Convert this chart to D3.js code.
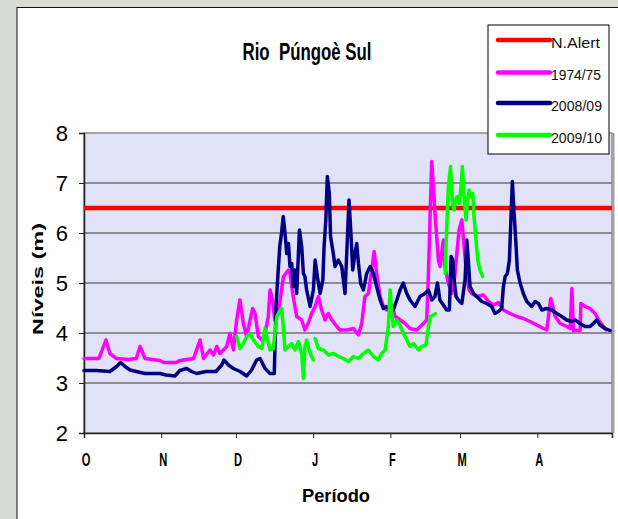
<!DOCTYPE html>
<html>
<head>
<meta charset="utf-8">
<script src="https://cdn.jsdelivr.net/npm/d3@7"></script>
<style>
  html, body { margin: 0; padding: 0; background: #d8dbd6; }
  svg { display: block; }
  text { font-family: "Liberation Sans", Arial, sans-serif; }
</style>
</head>
<body>
<div id="chart"></div>
<script>
// months of the season, October to April
var months = ["O", "N", "D", "J", "F", "M", "A"];
var monthDays = [31, 30, 31, 31, 28, 31, 30];
var yTicks = [2, 3, 4, 5, 6, 7, 8];
var alertLevel = 6.5;
var names = ["N.Alert", "1974/75", "2008/09", "2009/10"];
var colors = ["#ff0000", "#ff00ff", "#000080", "#00ff00"];

// [day since 1 Oct, level in m]
var s1974 = [[0,3.49],[6,3.49],[8.8,3.86],[10.4,3.59],[13,3.49],[18,3.47],[21,3.49],[22.5,3.73],[24.5,3.49],[30.5,3.45],[32,3.41],[37,3.41],[38.5,3.45],[44,3.49],[46.6,3.86],[48,3.49],[50.6,3.66],[52,3.56],[53.3,3.73],[54.6,3.59],[57.3,3.73],[58.6,3.99],[60,3.66],[61.3,4.26],[62.6,4.66],[64,4.19],[65.3,3.93],[66.7,4.26],[67.7,4.49],[68.7,4.39],[70,3.93],[71.4,3.86],[72.7,3.99],[74,4.33],[74.7,4.86],[75.7,4.66],[76.6,4.26],[78,4.4],[80.1,5.13],[82.1,5.26],[82.7,5.19],[84,4.73],[85.4,4.33],[87.4,4.26],[88.7,4.06],[90,4.19],[91.4,4.39],[92.8,4.53],[94.1,4.73],[95.4,4.46],[96.8,4.26],[98.1,4.39],[99.5,4.26],[101.5,4.13],[102.8,4.06],[105.5,4.06],[108.2,4.09],[110.2,3.96],[111.5,4.19],[112.8,4.73],[114.2,4.79],[115.5,5.26],[116.5,5.63],[117.5,5.19],[118.9,4.73],[120.2,4.53],[121.5,4.46],[123.6,4.56],[124.9,4.33],[127,4.26],[128.9,4.19],[130.9,4.09],[133.6,4.06],[136.3,4.19],[137.6,4.26],[138.3,5.19],[139.6,7.43],[140.3,6.93],[141,6.33],[141.6,5.93],[142.3,5.46],[143,5.33],[143.6,5.59],[144.3,5.86],[144.9,5.33],[146.3,4.99],[147.7,4.79],[148.7,5.06],[149.7,5.59],[150.6,6.06],[151.7,6.26],[152.6,5.73],[153.7,5.13],[154.6,4.86],[155.7,4.79],[157.7,4.73],[160.4,4.76],[162.4,4.63],[164.4,4.56],[166.4,4.61],[168.4,4.46],[171.1,4.39],[173.8,4.33],[176.4,4.29],[179.1,4.23],[181.8,4.16],[184.5,4.09],[185.8,4.06],[186.5,4.33],[187.4,4.69],[188.2,4.53],[189.2,4.33],[191.2,4.19],[193.8,4.13],[195.2,4.09],[195.9,4.89],[196.5,4.05],[199.2,4.05],[199.5,4.59],[201.2,4.53],[203.2,4.49],[205.2,4.39],[206.6,4.26],[208.6,4.13],[209.6,4.06]];

var s2008 = [[0,3.25],[5,3.25],[10.4,3.23],[13.1,3.33],[14.7,3.41],[16.5,3.33],[18.5,3.26],[21,3.23],[24.5,3.19],[30.5,3.19],[33,3.16],[36.5,3.14],[38.5,3.25],[41.2,3.29],[43.2,3.23],[45.2,3.19],[49,3.23],[53,3.23],[55.3,3.36],[56.2,3.46],[58,3.36],[60,3.29],[62.7,3.23],[65.3,3.14],[67.3,3.26],[69.3,3.46],[70.7,3.49],[72.7,3.29],[74.7,3.19],[76.4,3.19],[77.1,4.53],[77.9,5.19],[78.6,5.73],[79.3,5.99],[80,6.33],[80.7,6.0],[81.4,5.59],[82.1,5.79],[82.7,5.33],[83.4,5.39],[84,4.93],[84.7,5.26],[85.4,4.79],[86.5,6.06],[87.4,5.73],[88.1,5.19],[88.7,5.13],[89.4,4.86],[90.8,4.53],[92.1,4.86],[92.8,5.46],[93.7,5.13],[94.8,4.79],[95.9,5.06],[96.4,5.73],[97.1,6.26],[97.7,7.13],[98.5,6.79],[99,5.93],[100.1,5.59],[100.8,5.33],[102.1,5.46],[103.5,5.33],[104.8,4.79],[105.5,5.59],[106.4,6.66],[107.1,6.06],[107.9,5.26],[108.8,5.59],[109.5,5.79],[110.2,5.39],[111.1,4.99],[112.2,4.86],[113.5,5.19],[114.9,5.33],[116.2,5.19],[117.5,4.93],[118.9,4.66],[120.2,4.49],[121.5,4.53],[122.9,4.43],[124.2,4.46],[125.6,4.66],[126.9,4.86],[128.2,5.0],[129.6,4.79],[130.9,4.66],[132.9,4.53],[134.9,4.73],[136.9,4.79],[138.3,4.86],[139.6,4.66],[140.9,4.73],[141.9,5.0],[142.9,4.66],[144.3,4.56],[145.6,4.46],[146.7,4.46],[147.4,5.53],[148.1,5.46],[148.6,5.06],[149.4,4.73],[150.3,4.66],[151.7,4.59],[153,5.06],[153.7,5.86],[154.3,5.46],[155,4.93],[156.4,4.79],[157.7,4.73],[159.7,4.63],[161.7,4.59],[163.7,4.53],[165,4.39],[166.4,4.43],[167.7,4.49],[168.4,4.93],[169.1,5.13],[170,5.19],[170.8,5.46],[171.4,6.26],[172,7.03],[172.7,6.39],[173.5,5.73],[174,5.26],[175.1,5.0],[176.4,4.79],[177.8,4.63],[179.8,4.53],[181.1,4.63],[182.5,4.59],[183.8,4.46],[185.8,4.49],[187.8,4.46],[189.8,4.39],[191.8,4.33],[193.8,4.26],[195.9,4.23],[197.2,4.26],[199.2,4.19],[201.2,4.13],[203.2,4.13],[204.5,4.19],[205.9,4.26],[207.2,4.16],[209.2,4.09],[211.2,4.05]];

// null = gap in the record
var s2009 = [[61.3,3.93],[62.6,3.69],[64,3.79],[65.3,3.93],[66.7,3.99],[68,3.86],[70,3.73],[71.4,3.69],[72.7,4.09],[73.7,3.86],[74.7,3.66],[76,3.69],[77.4,4.33],[78.5,4.43],[79.4,4.49],[80.1,4.06],[80.7,3.66],[82.1,3.73],[83.4,3.79],[84.7,3.66],[86.1,3.83],[87.4,3.59],[88.1,3.09],[88.7,3.73],[89.4,3.86],[90.4,3.66],[91.4,3.53],[92.1,3.46],null,[92.8,3.89],[94.1,3.69],[96.1,3.66],[98.2,3.56],[100.2,3.59],[102.2,3.53],[104.2,3.49],[106.2,3.43],[108.2,3.53],[110.2,3.49],[112.2,3.59],[114.2,3.66],[116.2,3.53],[118.2,3.46],[119.5,3.59],[120.9,3.66],[122.2,4.13],[122.9,4.86],[123.6,4.39],[124.2,4.13],[125.6,4.26],[126.9,4.16],[128.2,4.0],[129.6,3.86],[130.9,3.73],[132.3,3.79],[134.3,3.66],[135.6,3.73],[137.3,3.76],[138.3,4.13],[139,4.33],[140.3,4.36],[141,4.39],null,[145,5.19],[145.6,6.06],[146.3,6.93],[147.2,7.33],[147.9,6.59],[148.6,6.46],[149,6.66],[149.9,6.73],[150.7,6.59],[151.4,6.93],[151.9,7.33],[152.6,6.73],[153.4,6.26],[153.9,6.59],[154.6,6.86],[155.3,6.73],[156.1,6.79],[156.6,6.33],[157.4,5.86],[158.1,5.46],[159,5.26],[160.1,5.13]];

var W = 618, H = 519;
var m = {left: 84, top: 133, right: 6, bottom: 86};
var totalDays = d3.sum(monthDays);
var monthStarts = monthDays.map(function(d, i) { return d3.sum(monthDays.slice(0, i)); });

var x = d3.scaleLinear().domain([0, totalDays]).range([m.left, W - m.right]);
var y = d3.scaleLinear().domain([2, 8]).range([H - m.bottom, m.top]);

var svg = d3.select("#chart").append("svg").attr("width", W).attr("height", H);

// white panel on the grey backdrop
svg.append("rect").attr("x", 17).attr("y", 7.5).attr("width", W).attr("height", H)
  .attr("fill", "#fff").attr("stroke", "#111").attr("stroke-width", 1);

// plot area
svg.append("rect").attr("x", x(0)).attr("y", y(8)).attr("width", x(totalDays) - x(0)).attr("height", y(2) - y(8))
  .attr("fill", "#e1e1f8").attr("stroke", "#8c8c8c").attr("stroke-width", 1.5);
svg.append("line").attr("x1", x(totalDays) + 1.5).attr("x2", x(totalDays) + 1.5).attr("y1", y(8)).attr("y2", y(2))
  .attr("stroke", "#a0a0a0").attr("stroke-width", 2);

svg.append("g").selectAll("line").data(yTicks.slice(1, -1)).enter().append("line")
  .attr("x1", x(0)).attr("x2", x(totalDays)).attr("y1", function(d) { return y(d); }).attr("y2", function(d) { return y(d); })
  .attr("stroke", "#6e6e6e").attr("stroke-width", 1.5);

// axes
var yAxis = svg.append("g").attr("transform", "translate(" + x(0) + ",0)")
  .call(d3.axisLeft(y).tickValues(yTicks).tickSize(5).tickPadding(11).tickFormat(d3.format("d")));
yAxis.select(".domain").attr("stroke", "#222").attr("stroke-width", 1.5);
yAxis.selectAll(".tick line").attr("stroke", "#222");
yAxis.selectAll("text").attr("font-size", 22).attr("fill", "#000")
  .attr("font-family", "'Liberation Sans', Arial, sans-serif");

var xAxis = svg.append("g").attr("transform", "translate(0," + y(2) + ")")
  .call(d3.axisBottom(x).tickValues(monthStarts.concat([totalDays])).tickSize(5).tickFormat(""));
xAxis.select(".domain").attr("stroke", "#222").attr("stroke-width", 1.5);
xAxis.selectAll(".tick line").attr("stroke", "#222");

svg.append("g").selectAll("text").data(months).enter().append("text")
  .attr("transform", function(d, i) { return "translate(" + (x(monthStarts[i]) + 2) + "," + (y(2) + 33) + ") scale(0.62,1)"; })
  .attr("text-anchor", "middle").attr("font-size", 18).attr("font-weight", "bold").text(function(d) { return d; });

// titles
svg.append("text").attr("x", 307).attr("y", 60).attr("text-anchor", "middle")
  .attr("font-size", 23).attr("font-weight", "bold").attr("textLength", 129).attr("lengthAdjust", "spacingAndGlyphs")
  .attr("xml:space", "preserve").style("white-space", "pre").text("Rio  Púngoè Sul");
svg.append("text").attr("x", 336).attr("y", 502).attr("text-anchor", "middle")
  .attr("font-size", 18).attr("font-weight", "bold").attr("textLength", 68).attr("lengthAdjust", "spacingAndGlyphs")
  .text("Período");
svg.append("text").attr("transform", "translate(43,279) rotate(-90)").attr("text-anchor", "middle")
  .attr("font-size", 14).attr("font-weight", "bold").attr("textLength", 112).attr("lengthAdjust", "spacingAndGlyphs")
  .text("Níveis (m)");

// series
var line = d3.line().defined(function(d) { return d !== null; })
  .x(function(d) { return x(d[0]); }).y(function(d) { return y(d[1]); });

svg.append("line").attr("x1", x(0)).attr("x2", x(totalDays)).attr("y1", y(alertLevel)).attr("y2", y(alertLevel))
  .attr("stroke", colors[0]).attr("stroke-width", 4.5);

[s1974, s2008, s2009].forEach(function(s, i) {
  svg.append("path").datum(s).attr("d", line).attr("fill", "none")
    .attr("stroke", colors[i + 1]).attr("stroke-width", 3.5)
    .attr("stroke-linejoin", "round").attr("stroke-linecap", "round");
});

// legend
var lg = svg.append("g").attr("transform", "translate(488,25)");
lg.append("rect").attr("width", 121).attr("height", 129).attr("fill", "#fff").attr("stroke", "#000").attr("stroke-width", 1);
var rowY = [15, 47.5, 78, 110];
var labelW = [49, 50, 51, 51];
var item = lg.selectAll("g.item").data(names).enter().append("g").attr("class", "item")
  .attr("transform", function(d, i) { return "translate(0," + rowY[i] + ")"; });
item.append("line").attr("x1", 10).attr("x2", 62).attr("stroke", function(d, i) { return colors[i]; })
  .attr("stroke-width", 4.5).attr("stroke-linecap", "round");
item.append("text").attr("x", 63).attr("y", 7.5).attr("font-size", 15)
  .attr("textLength", function(d, i) { return labelW[i]; }).attr("lengthAdjust", "spacingAndGlyphs")
  .attr("fill", "#111").text(function(d) { return d; });
</script>
</body>
</html>
